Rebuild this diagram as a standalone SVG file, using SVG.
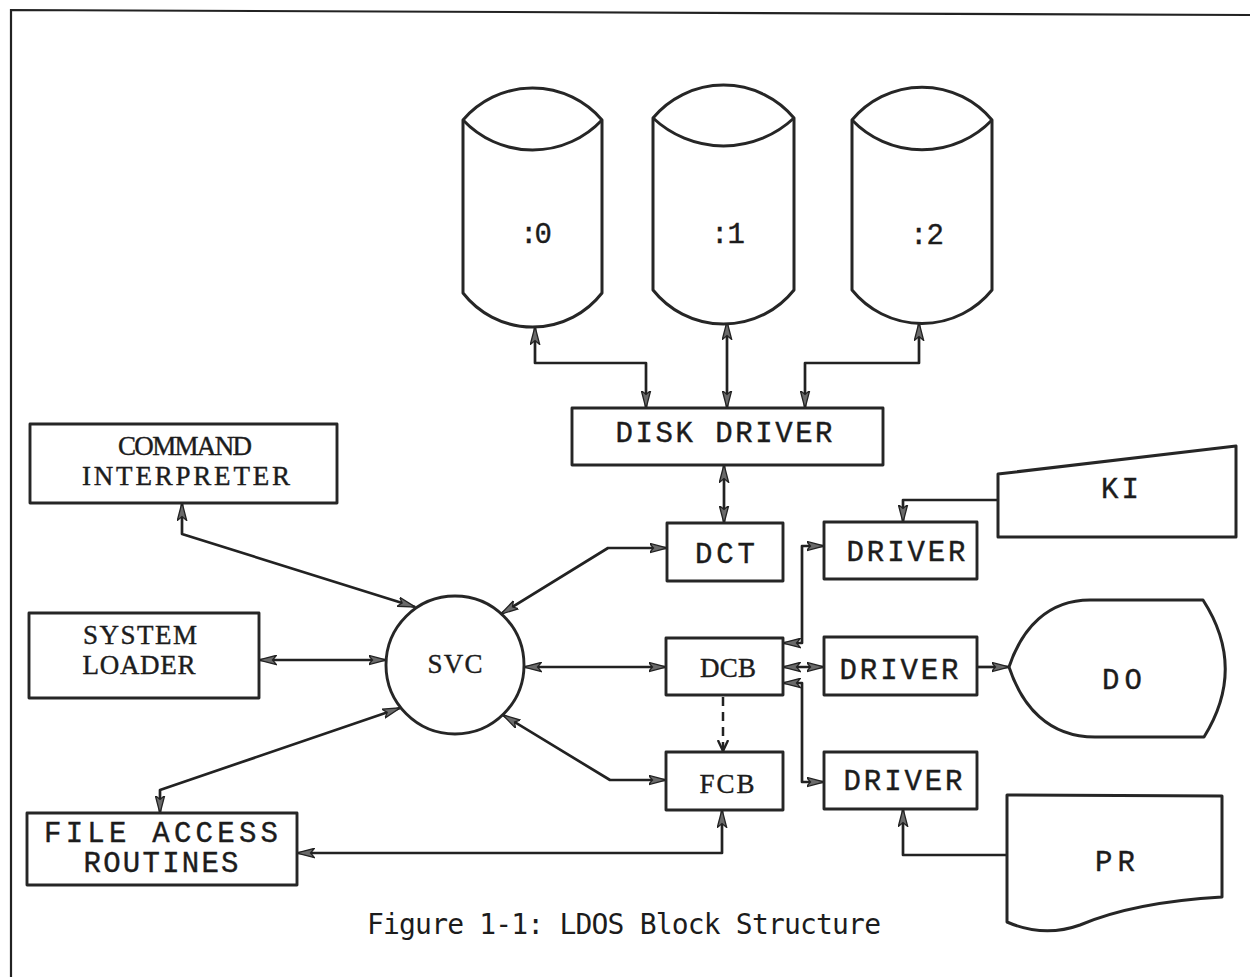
<svg xmlns="http://www.w3.org/2000/svg" width="1250" height="977" viewBox="0 0 1250 977">
<style>
.bx{fill:#fff;stroke:#262626;stroke-width:2.9;stroke-linejoin:round}
.sh{fill:#fff;stroke:#262626;stroke-width:3;stroke-linejoin:round}
.ln{fill:none;stroke:#222;stroke-width:2.7;stroke-linejoin:round}
.dash{fill:none;stroke:#222;stroke-width:2.5;stroke-dasharray:9 6}
.m{font-family:"Liberation Mono","DejaVu Sans Mono",monospace;font-size:29px;fill:#1c1c1c;stroke:#1c1c1c;stroke-width:0.4;text-anchor:middle}
.s{font-family:"Liberation Serif","DejaVu Serif",serif;font-size:27px;fill:#1c1c1c;stroke:#1c1c1c;stroke-width:0.4;text-anchor:middle}
.cap{font-family:"DejaVu Sans Mono","Liberation Mono",monospace;font-size:28px;fill:#1c1c1c}
</style>
<defs>
<marker id="ah" viewBox="0 0 18 11" refX="17.5" refY="5.5" markerWidth="18" markerHeight="11" markerUnits="userSpaceOnUse" orient="auto-start-reverse">
<path d="M0,0.8 L18,5.5 L0,10.2 L4,5.5 Z" fill="#6a6a6a" stroke="#222" stroke-width="1.3"/>
</marker>
<marker id="ao" viewBox="0 0 12 12" refX="11" refY="6" markerWidth="12" markerHeight="12" markerUnits="userSpaceOnUse" orient="auto">
<path d="M0,0.8 L11,6 L0,11.2" fill="none" stroke="#222" stroke-width="2.4"/>
</marker>
</defs>
<rect width="1250" height="977" fill="#fff"/>
<path d="M11,977 L11,10 L1250,15" fill="none" stroke="#222" stroke-width="2.2"/>

<g id="connectors">
<path class="ln" d="M182,503 L182,534 L415,607" marker-start="url(#ah)" marker-end="url(#ah)"/>
<path class="ln" d="M259,660 L386,660" marker-start="url(#ah)" marker-end="url(#ah)"/>
<path class="ln" d="M160,813 L160,790 L400,708" marker-start="url(#ah)" marker-end="url(#ah)"/>
<path class="ln" d="M667,548 L608,548 L501,614" marker-start="url(#ah)" marker-end="url(#ah)"/>
<path class="ln" d="M524,667 L666,667" marker-start="url(#ah)" marker-end="url(#ah)"/>
<path class="ln" d="M666,780 L610,780 L503,715" marker-start="url(#ah)" marker-end="url(#ah)"/>
<path class="ln" d="M297,853 L722,853 L722,810" marker-start="url(#ah)" marker-end="url(#ah)"/>
<path class="dash" d="M723,697 L723,751" marker-end="url(#ao)"/>
<path class="ln" d="M724,465 L724,523" marker-start="url(#ah)" marker-end="url(#ah)"/>
<path class="ln" d="M535,327 L535,363 L646,363 L646,408" marker-start="url(#ah)" marker-end="url(#ah)"/>
<path class="ln" d="M727,322 L727,408" marker-start="url(#ah)" marker-end="url(#ah)"/>
<path class="ln" d="M919,323 L919,363 L805,363 L805,408" marker-start="url(#ah)" marker-end="url(#ah)"/>
<path class="ln" d="M783,643 L802,643 L802,546 L824,546" marker-start="url(#ah)" marker-end="url(#ah)"/>
<path class="ln" d="M783,667 L824,667" marker-start="url(#ah)" marker-end="url(#ah)"/>
<path class="ln" d="M783,683 L802,683 L802,782 L824,782" marker-start="url(#ah)" marker-end="url(#ah)"/>
<path class="ln" d="M998,500 L903,500 L903,522" marker-end="url(#ah)"/>
<path class="ln" d="M977,667 L1009,667" marker-end="url(#ah)"/>
<path class="ln" d="M1007,855 L903,855 L903,809" marker-end="url(#ah)"/>
</g>

<g id="disk0">
<path class="sh" d="M463,120 A91.5,91.5 0 0 1 602,120 L602,293 A88,88 0 0 1 463,293 Z"/>
<path class="sh" fill="none" d="M463,120 A95.5,95.5 0 0 0 602,120"/>
<text class="m" x="536" y="243" textLength="32">:0</text>
</g>
<g id="disk1">
<path class="sh" d="M653,118 A92,92 0 0 1 794,118 L794,290 A90,90 0 0 1 653,290 Z"/>
<path class="sh" fill="none" d="M653,118 A103,103 0 0 0 794,118"/>
<text class="m" x="728" y="243" textLength="34">:1</text>
</g>
<g id="disk2">
<path class="sh" d="M852,120 A91,91 0 0 1 992,120 L992,290 A90,90 0 0 1 852,290 Z"/>
<path class="sh" fill="none" d="M852,120 A97,97 0 0 0 992,120"/>
<text class="m" x="927" y="244" textLength="34">:2</text>
</g>

<g id="disk-driver">
<rect class="bx" x="572" y="408" width="311" height="57"/>
<text class="m" x="724" y="442" textLength="217">DISK DRIVER</text>
</g>
<g id="command-interpreter">
<rect class="bx" x="30" y="424" width="307" height="79"/>
<text class="s" x="185" y="455" textLength="134">COMMAND</text>
<text class="s" x="186" y="485" textLength="208">INTERPRETER</text>
</g>
<g id="system-loader">
<rect class="bx" x="29" y="613" width="230" height="85"/>
<text class="s" x="140" y="644" textLength="114">SYSTEM</text>
<text class="s" x="139" y="674" textLength="113">LOADER</text>
</g>
<g id="svc">
<circle class="bx" cx="455" cy="665" r="69"/>
<text class="s" x="455" y="673" textLength="55">SVC</text>
</g>
<g id="file-access">
<rect class="bx" x="27" y="813" width="270" height="72"/>
<text class="m" x="161" y="842" textLength="234">FILE  ACCESS</text>
<text class="m" x="161" y="872" textLength="155">ROUTINES</text>
</g>
<g id="dct">
<rect class="bx" x="667" y="523" width="116" height="58"/>
<text class="m" x="725" y="563" textLength="60">DCT</text>
</g>
<g id="dcb">
<rect class="bx" x="666" y="638" width="117" height="57"/>
<text class="s" x="728" y="677" textLength="56">DCB</text>
</g>
<g id="fcb">
<rect class="bx" x="666" y="752" width="117" height="58"/>
<text class="s" x="727" y="793" textLength="55">FCB</text>
</g>
<g id="driver-ki">
<rect class="bx" x="824" y="522" width="153" height="57"/>
<text class="m" x="906" y="561" textLength="119">DRIVER</text>
</g>
<g id="driver-do">
<rect class="bx" x="824" y="637" width="153" height="58"/>
<text class="m" x="899" y="679" textLength="119">DRIVER</text>
</g>
<g id="driver-pr">
<rect class="bx" x="824" y="752" width="153" height="57"/>
<text class="m" x="903" y="790" textLength="119">DRIVER</text>
</g>
<g id="ki">
<path class="sh" d="M998,474 L1236,446 L1236,537 L998,537 Z"/>
<text class="m" x="1120" y="498" textLength="38">KI</text>
</g>
<g id="do">
<path class="sh" d="M1009,667 C1022,628 1048,600 1090,600 L1203,600 Q1247,668 1204,737 L1095,737 C1048,737 1022,706 1009,667 Z"/>
<text class="m" x="1122" y="689" textLength="40">DO</text>
</g>
<g id="pr">
<path class="sh" d="M1007,795 L1222,796 L1222,897 C1170,900 1120,908 1080,925 C1055,934 1030,932 1007,922 Z"/>
<text class="m" x="1115" y="871" textLength="40">PR</text>
</g>

<text class="cap" x="367" y="934" textLength="514">Figure 1-1: LDOS Block Structure</text>
</svg>
